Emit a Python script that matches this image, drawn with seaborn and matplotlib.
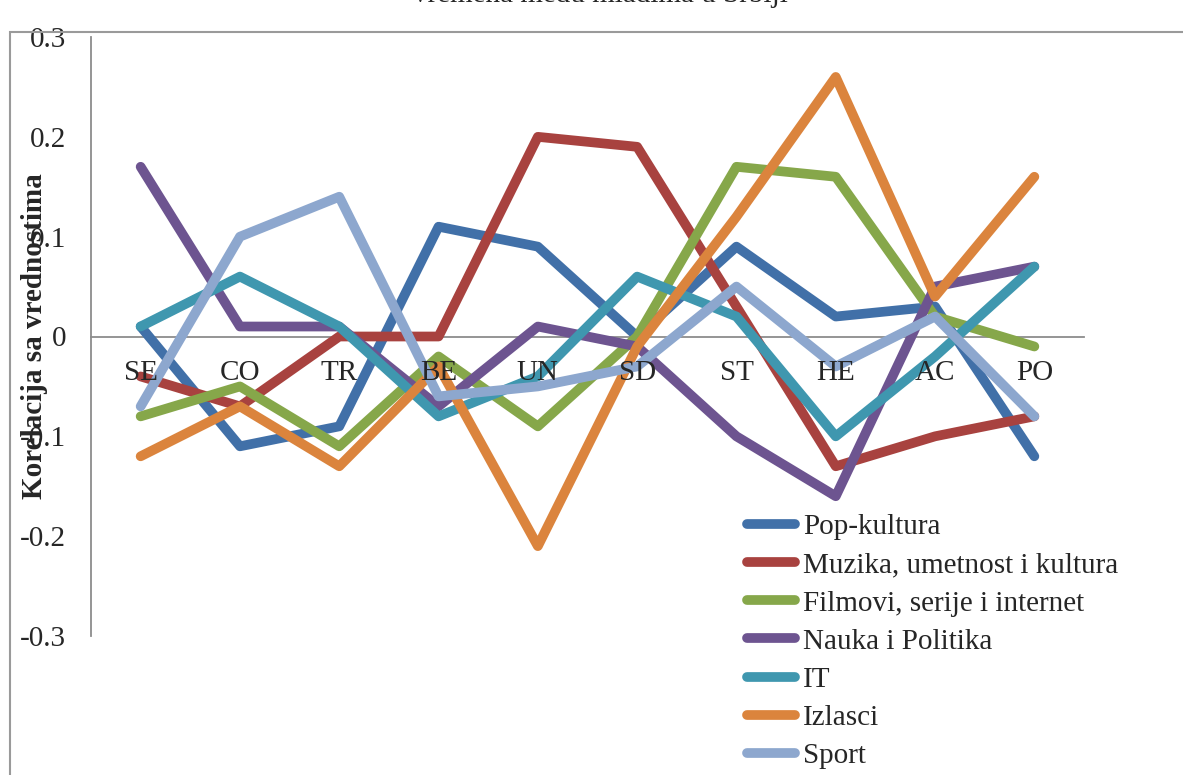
import matplotlib
matplotlib.use('Agg')
import matplotlib.pyplot as plt
import seaborn as sns
import pandas as pd
from matplotlib.patches import Rectangle

# kategorije na x osi
categories = ['SE', 'CO', 'TR', 'BE', 'UN', 'SD', 'ST', 'HE', 'AC', 'PO']

series_names = ['Pop-kultura', 'Muzika, umetnost i kultura', 'Filmovi, serije i internet',
                'Nauka i Politika', 'IT', 'Izlasci', 'Sport']

pop_kultura = [0.01, -0.11, -0.09, 0.11, 0.09, 0.00, 0.09, 0.02, 0.03, -0.12]
muzika = [-0.04, -0.07, 0.00, 0.00, 0.20, 0.19, 0.03, -0.13, -0.10, -0.08]
filmovi = [-0.08, -0.05, -0.11, -0.02, -0.09, 0.00, 0.17, 0.16, 0.02, -0.01]
nauka = [0.17, 0.01, 0.01, -0.07, 0.01, -0.01, -0.10, -0.16, 0.05, 0.07]
it = [0.01, 0.06, 0.01, -0.08, -0.04, 0.06, 0.02, -0.10, -0.02, 0.07]
izlasci = [-0.12, -0.07, -0.13, -0.03, -0.21, -0.01, 0.12, 0.26, 0.04, 0.16]
sport = [-0.07, 0.10, 0.14, -0.06, -0.05, -0.03, 0.05, -0.03, 0.02, -0.08]

ytick_values = [0.3, 0.2, 0.1, 0, -0.1, -0.2, -0.3]
ytick_labels = ['0.3', '0.2', '0.1', '0', '-0.1', '-0.2', '-0.3']

colors = ['#4170A8', '#A8423F', '#86A74A', '#6D5490', '#3F97AF', '#DB843D', '#8DA7CE']

all_values = [pop_kultura, muzika, filmovi, nauka, it, izlasci, sport]
rows = []
for name, vals in zip(series_names, all_values):
    for i, (c, v) in enumerate(zip(categories, vals)):
        rows.append({'serija': name, 'kat': c, 'poz': i, 'vrednost': v})
df = pd.DataFrame(rows)

sns.set_style('white')
plt.rcParams['font.family'] = ['Liberation Serif', 'DejaVu Serif']

W, H = 1183, 775
fig = plt.figure(figsize=(W / 100, H / 100), dpi=100)
ax = fig.add_axes([91 / W, (H - 636) / H, (1084 - 91) / W, (636 - 37) / H])

sns.lineplot(data=df, x='poz', y='vrednost', hue='serija', hue_order=series_names,
             palette=colors, linewidth=7, sort=False, legend=False, ax=ax,
             solid_capstyle='round', solid_joinstyle='round')

# spine pomeramo pre podešavanja tikova (set_position resetuje tikove)
ax.spines['top'].set_visible(False)
ax.spines['right'].set_visible(False)
ax.spines['bottom'].set_position(('data', 0))
for s in ['left', 'bottom']:
    ax.spines[s].set_color('#8c8c8c')
    ax.spines[s].set_linewidth(1.3)
    ax.spines[s].set_zorder(0.5)

ax.set_xlim(-0.5, len(categories) - 0.5)
ax.set_ylim(-0.3, 0.3)
ax.set_xticks(range(len(categories)))
ax.set_xticklabels(categories)
ax.set_yticks(ytick_values)
ax.set_yticklabels(ytick_labels)
ax.tick_params(axis='both', length=0, labelsize=21)
ax.tick_params(axis='x', pad=17)
ax.tick_params(axis='y', pad=18)
ax.xaxis.set_zorder(3)
ax.set_xlabel('')

ax.set_ylabel('Korelacija sa vrednostima', fontsize=21, fontweight='bold', va='center')
ax.yaxis.set_label_coords(-56 / 993, 0.5)

handles = ax.get_lines()[:len(series_names)]
leg = ax.legend(handles, series_names, loc='upper left',
                bbox_to_anchor=(747 / W, 1 - 514 / H), bbox_transform=fig.transFigure,
                frameon=False, fontsize=21, handlelength=1.65, handletextpad=0.27,
                labelspacing=0.40, borderpad=0, borderaxespad=0)
for h in leg.get_lines():
    h.set_solid_capstyle('round')
    h.set_linewidth(7)

# okvir grafikona i naslov (odsečen na vrhu)
fig.add_artist(Rectangle((10 / W, -0.1), 2, 1 - 32 / H + 0.1, transform=fig.transFigure,
                         fill=False, edgecolor='#9a9a9a', linewidth=1.5))
fig.text(600 / W, 1 - 2 / H, 'vremena među mladima u Srbiji', ha='center', va='baseline',
         fontsize=21)

fig.savefig('out.png', dpi=100)
